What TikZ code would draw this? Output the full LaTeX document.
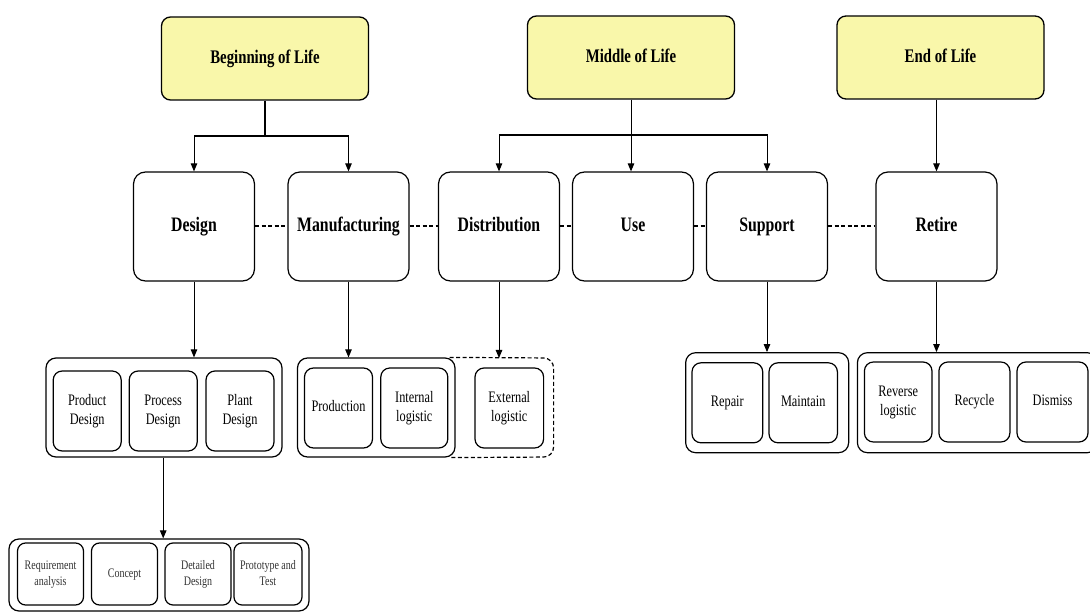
\documentclass[tikz,border=0pt]{standalone}
\usepackage{fontspec}
\setmainfont{Liberation Serif}
\usepackage{graphicx}
\usetikzlibrary{arrows.meta}
\definecolor{lifeyellow}{RGB}{249,247,170}
% text set tall and narrow
\newcommand{\tx}[1]{\scalebox{1}[1.3]{\begin{tabular}{@{}c@{}}#1\end{tabular}}}
\tikzset{
  phase/.style={draw, line width=1.3pt, rounded corners=9pt, fill=lifeyellow,
    minimum width=207pt, minimum height=83pt, inner sep=0pt,
    font=\fontsize{14.8}{17.8}\selectfont\bfseries},
  stage/.style={draw, line width=1.2pt, rounded corners=12pt,
    minimum width=121pt, minimum height=109pt, inner sep=0pt,
    font=\fontsize{15.8}{19}\selectfont\bfseries},
  group/.style={draw, line width=1.2pt, rounded corners=10pt, inner sep=0pt},
  item/.style={draw, line width=1.2pt, rounded corners=9pt,
    minimum height=80pt, inner sep=0pt,
    font=\fontsize{12.3}{14.6}\selectfont},
  subitem/.style={draw, line width=1.2pt, rounded corners=8pt,
    minimum height=62pt, minimum width=66pt, inner sep=0pt,
    font=\fontsize{10}{12.3}\selectfont, text=black!80},
  link/.style={line width=1pt, -{Triangle[length=8pt,width=6.5pt]}},
  trunk/.style={line width=1.4pt},
  peer/.style={line width=2pt, dash pattern=on 4pt off 2.5pt}
}
\begin{document}
\begin{tikzpicture}[x=1pt,y=-1pt]
\useasboundingbox (0,0) rectangle (1090,612);
\clip (0,0) rectangle (1090,612);

% life phases
\node[phase] (bol) at (265,58.5) {\tx{Beginning of Life}};
\node[phase] (mol) at (631,57.5) {\tx{Middle of Life}};
\node[phase] (eol) at (940.5,57.5) {\tx{End of Life}};

% lifecycle stages
\node[stage] (design)  at (194,226.5) {\tx{Design}};
\node[stage] (manuf)   at (348.5,226.5) {\tx{Manufacturing}};
\node[stage] (dist)    at (499,226.5) {\tx{Distribution}};
\node[stage] (use)     at (633,226.5) {\tx{Use}};
\node[stage] (support) at (767,226.5) {\tx{Support}};
\node[stage] (retire)  at (936.5,226.5) {\tx{Retire}};

% stage sequence
\draw[peer] (design) -- (manuf);
\draw[peer] (manuf) -- (dist);
\draw[peer] (dist) -- (use);
\draw[peer] (use) -- (support);
\draw[peer] (support) -- (retire);

% phase to stage connectors
\coordinate (bolj) at (265,136);
\coordinate (molj) at (631,135);
\draw[trunk] (bol.south) -- (bolj);
\draw[trunk] (design.north |- bolj) -- (manuf.north |- bolj);
\draw[link] (bolj) -| (design.north);
\draw[link] (bolj) -| (manuf.north);
\draw[trunk] (dist.north |- molj) -- (support.north |- molj);
\draw[link] (mol.south) -- (molj |- use.north);
\draw[link] (molj) -| (dist.north);
\draw[link] (molj) -| (support.north);
\draw[link] (eol.south -| retire.north) -- (retire.north);

% design activities
\node[group, minimum width=236pt, minimum height=99pt] (dgrp) at (164,407.5) {};
\node[item, minimum width=68pt] (product) at (87.2,411) {\tx{Product\\Design}};
\node[item, minimum width=68pt] (process) at (163.2,411) {\tx{Process\\Design}};
\node[item, minimum width=68pt] (plant)   at (240,411) {\tx{Plant\\Design}};

% process design steps
\node[group, minimum width=300pt, minimum height=72pt] (pgrp) at (159,575) {};
\node[subitem] (req)     at (50.5,574) {\tx{Requirement\\analysis}};
\node[subitem] (concept) at (124.5,574) {\tx{Concept}};
\node[subitem] (detail)  at (198,574) {\tx{Detailed\\Design}};
\node[subitem, minimum width=68pt] (proto) at (268,574) {\tx{Prototype and\\Test}};

% manufacturing and distribution activities
\node[group, minimum width=157.5pt, minimum height=99pt] (mgrp) at (376.25,407.5) {};
\draw[line width=1.2pt, dash pattern=on 4pt off 2.5pt, rounded corners=10pt]
  (mgrp.north east) ++(-6,0) -- (553.6,358) -- (553.6,457) -- ([xshift=-6pt]mgrp.south east);
\coordinate (xgrp) at (503,358);
\node[item, minimum width=68pt] (production) at (338.5,408) {\tx{Production}};
\node[item, minimum width=67pt] (internal)   at (414.3,408) {\tx{Internal\\logistic}};
\node[item, minimum width=68.6pt] (external) at (509.3,408) {\tx{External\\logistic}};

% support activities
\node[group, minimum width=163pt, minimum height=100pt] (sgrp) at (767.15,402.7) {};
\node[item, minimum width=70.7pt] (repair)   at (727.35,402.8) {\tx{Repair}};
\node[item, minimum width=68.4pt] (maintain) at (803.2,402.8) {\tx{Maintain}};

% retirement activities
\node[group, minimum width=240pt, minimum height=100pt] (rgrp) at (977.4,402.7) {};
\node[item, minimum width=67.6pt] (reverse) at (898.2,402) {\tx{Reverse\\logistic}};
\node[item, minimum width=71pt]   (recycle) at (974.4,402) {\tx{Recycle}};
\node[item, minimum width=71pt]   (dismiss) at (1052.5,402) {\tx{Dismiss}};

% stage to activity connectors
\draw[link] (design.south) -- (design.south |- dgrp.north);
\draw[link] (manuf.south) -- (manuf.south |- mgrp.north);
\draw[link] (dist.south) -- (dist.south |- xgrp);
\draw[link] (support.south) -- (support.south |- sgrp.north);
\draw[link] (retire.south) -- (retire.south |- rgrp.north);
\draw[link] (process.south |- dgrp.south) -- (process.south |- pgrp.north);
\end{tikzpicture}
\end{document}
